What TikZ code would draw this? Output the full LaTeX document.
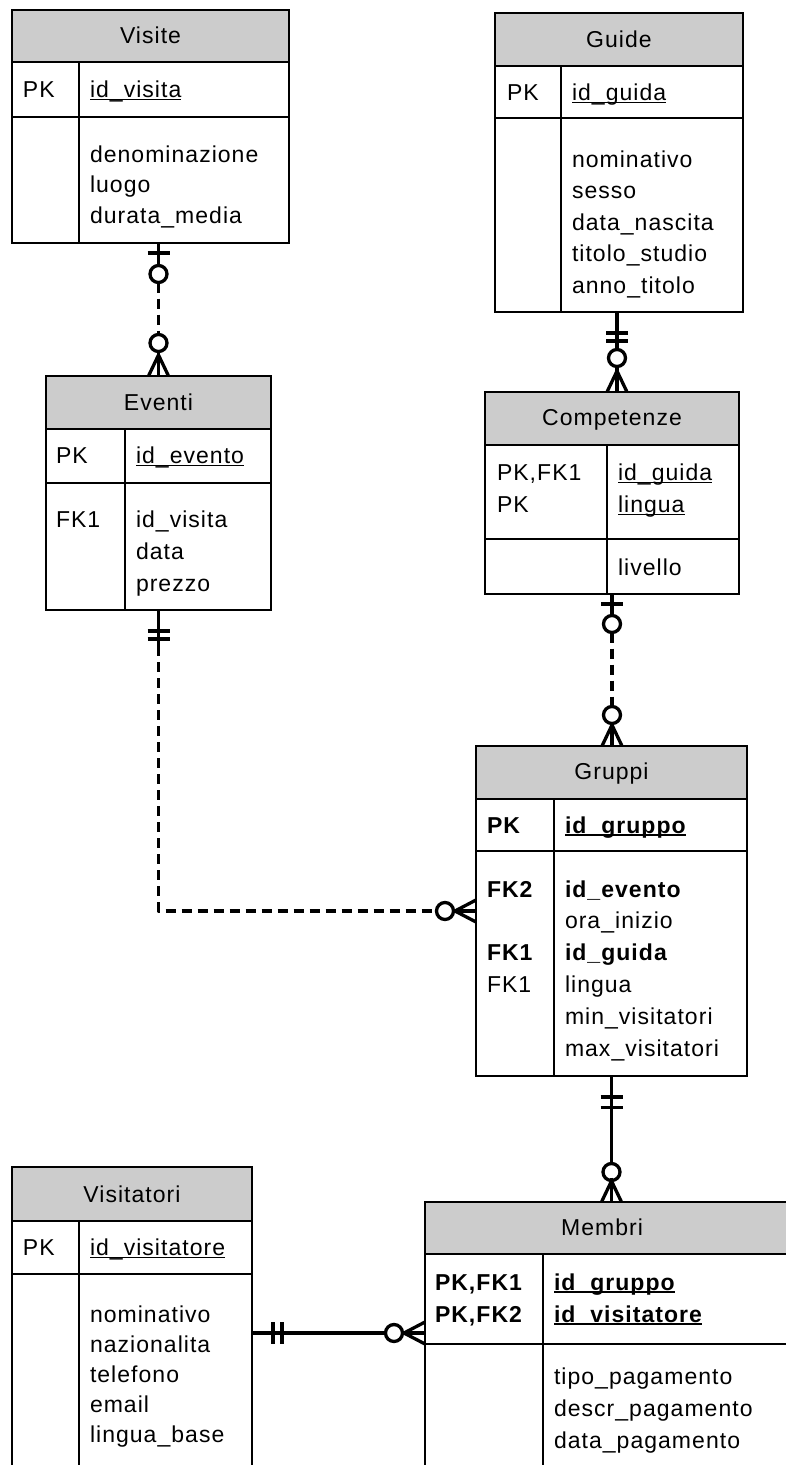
\documentclass[tikz,border=0pt]{standalone}
\usepackage{fontspec}
\setmainfont{Liberation Sans}[LetterSpace=4.5]
\usetikzlibrary{calc,backgrounds}
\definecolor{hdrgray}{HTML}{CCCCCC}
\newcommand\pkul[2][1.5pt]{\setbox0\hbox{#2}\rlap{\rule[-3.2pt]{\wd0}{#1}}\box0}
\newcommand\ertable[8]{%
  \node[tbl, minimum width=#4, minimum height=#5, anchor=north west] (#1) at (#2,#3) {};
  \begin{scope}[on background layer]
    \fill[hdrgray] (#1.north west) rectangle ([yshift=-#6]#1.north east);
  \end{scope}
  \draw[boxline] ([yshift=-#6]#1.north west) -- ([yshift=-#6]#1.north east);
  \draw[boxline] ([yshift=-#7]#1.north west) -- ([yshift=-#7]#1.north east);
  \draw[boxline] ([xshift=#8,yshift=-#6]#1.north west) -- ([xshift=#8]#1.south west);
}
\newcommand\tx[5][]{\node[txt,#1] (#2) at (#3,#4) {#5};}
\begin{document}
\begin{tikzpicture}[x=1pt,y=-1pt,
  tbl/.style={draw, line width=1.4pt, inner sep=0pt, outer sep=0pt},
  boxline/.style={line width=1.4pt},
  txt/.style={inner sep=0pt, outer sep=0pt, anchor=base west, font=\fontsize{23pt}{27pt}\selectfont},
  ttl/.style={anchor=base},
  bd/.style={font=\fontsize{23pt}{27pt}\selectfont\bfseries},
  conn/.style={line width=3.3pt},
  dconn/.style={conn, dash pattern=on 10pt off 6pt},
  pics/barH/.style={code={\draw[conn] (-11,0) -- (11,0);}},
  pics/barV/.style={code={\draw[conn] (0,-11) -- (0,11);}},
  pics/ring/.style={code={\draw[conn, fill=white] (0,0) circle[radius=8.5pt];}},
  pics/crowDown/.style={code={\draw[conn, line join=round] (-10,0) -- (0,-21) -- (10,0); \draw[conn] (0,-24.5) -- (0,0);}},
  pics/crowRight/.style={code={\draw[conn, line join=round] (0,-11) -- (-21,0) -- (0,11); \draw[conn] (-24.5,0) -- (0,0);}}
]
\useasboundingbox (0,0) rectangle (786,1465);
\begin{scope}[on background layer]
  \fill[white] (0,0) rectangle (786,1465);
\end{scope}
\clip (0,0) rectangle (786,1465);

% ---------- tables ----------
\ertable{visite}{12}{10}{277pt}{233pt}{52pt}{107pt}{67pt}
\ertable{guide}{495}{13}{248pt}{299pt}{53pt}{105pt}{66pt}
\ertable{eventi}{46}{376}{225pt}{234pt}{53pt}{107pt}{79pt}
\ertable{competenze}{485}{392}{254pt}{202pt}{53pt}{147pt}{122pt}
\ertable{gruppi}{476}{746}{271pt}{330pt}{53pt}{105pt}{78pt}
\ertable{membri}{425}{1202}{365pt}{300pt}{52pt}{142pt}{118pt}
\ertable{visitatori}{12}{1167}{240pt}{340pt}{54pt}{107pt}{67pt}

% ---------- Visite ----------
\tx[ttl]{vs-t}{150.5}{43}{Visite}
\tx{vs-k1}{23}{97}{PK}
\tx{vs-a1}{90}{97}{\pkul{id\_visita}}
\tx{vs-a2}{90}{162}{denominazione}
\tx{vs-a3}{90}{192.5}{luogo}
\tx{vs-a4}{90}{223}{durata\_media}

% ---------- Guide ----------
\tx[ttl]{gd-t}{619}{47}{Guide}
\tx{gd-k1}{507}{100}{PK}
\tx{gd-a1}{572}{100}{\pkul{id\_guida}}
\tx{gd-a2}{572}{167}{nominativo}
\tx{gd-a3}{572}{198.5}{sesso}
\tx{gd-a4}{572}{230}{data\_nascita}
\tx{gd-a5}{572}{261.5}{titolo\_studio}
\tx{gd-a6}{572}{293}{anno\_titolo}

% ---------- Eventi ----------
\tx[ttl]{ev-t}{158.5}{410}{Eventi}
\tx{ev-k1}{56}{463}{PK}
\tx{ev-a1}{136}{463}{\pkul{id\_evento}}
\tx{ev-k2}{56}{527}{FK1}
\tx{ev-a2}{136}{527}{id\_visita}
\tx{ev-a3}{136}{559}{data}
\tx{ev-a4}{136}{591}{prezzo}

% ---------- Competenze ----------
\tx[ttl]{cp-t}{612}{425}{Competenze}
\tx{cp-k1}{497}{480}{PK,FK1}
\tx{cp-a1}{618}{480}{\pkul{id\_guida}}
\tx{cp-k2}{497}{512}{PK}
\tx{cp-a2}{618}{512}{\pkul{lingua}}
\tx{cp-a3}{618}{575}{livello}

% ---------- Gruppi ----------
\tx[ttl]{gr-t}{611.5}{779}{Gruppi}
\tx[bd]{gr-k1}{487}{833}{PK}
\tx[bd]{gr-a1}{565}{833}{\pkul[2pt]{id\_gruppo}}
\tx[bd]{gr-k2}{487}{897}{FK2}
\tx[bd]{gr-a2}{565}{897}{id\_evento}
\tx{gr-a3}{565}{928}{ora\_inizio}
\tx[bd]{gr-k3}{487}{960}{FK1}
\tx[bd]{gr-a4}{565}{960}{id\_guida}
\tx{gr-k4}{487}{992}{FK1}
\tx{gr-a5}{565}{992}{lingua}
\tx{gr-a6}{565}{1024}{min\_visitatori}
\tx{gr-a7}{565}{1056}{max\_visitatori}

% ---------- Membri ----------
\tx[ttl]{mb-t}{602}{1235}{Membri}
\tx[bd]{mb-k1}{435}{1290}{PK,FK1}
\tx[bd]{mb-a1}{554}{1290}{\pkul[2pt]{id\_gruppo}}
\tx[bd]{mb-k2}{435}{1322}{PK,FK2}
\tx[bd]{mb-a2}{554}{1322}{\pkul[2pt]{id\_visitatore}}
\tx{mb-a3}{554}{1384}{tipo\_pagamento}
\tx{mb-a4}{554}{1416}{descr\_pagamento}
\tx{mb-a5}{554}{1448}{data\_pagamento}

% ---------- Visitatori ----------
\tx[ttl]{vt-t}{132}{1202}{Visitatori}
\tx{vt-k1}{23}{1255}{PK}
\tx{vt-a1}{90}{1255}{\pkul{id\_visitatore}}
\tx{vt-a2}{90}{1322}{nominativo}
\tx{vt-a3}{90}{1352}{nazionalita}
\tx{vt-a4}{90}{1382}{telefono}
\tx{vt-a5}{90}{1412}{email}
\tx{vt-a6}{90}{1442}{lingua\_base}

% ---------- connectors ----------
% Visite -- Eventi (dashed)
\coordinate (c1a) at (visite.south -| eventi.north);
\coordinate (c1b) at (eventi.north);
\draw[conn] (c1a) -- ($(c1a)+(0,22.5)$);
\draw[dconn] ($(c1a)+(0,39.5)$) -- ($(c1b)+(0,-41.5)$);
\path ($(c1a)+(0,10)$) pic {barH} ($(c1a)+(0,31)$) pic {ring}
      ($(c1b)+(0,-33)$) pic {ring} (c1b) pic {crowDown};

% Guide -- Competenze (solid)
\coordinate (c2a) at ($(guide.south west)+(122,0)$);
\coordinate (c2b) at (c2a |- competenze.north);
\draw[conn] (c2a) -- (c2b);
\path ($(c2a)+(0,21)$) pic {barH} ($(c2a)+(0,29)$) pic {barH}
      ($(c2a)+(0,46)$) pic {ring} (c2b) pic {crowDown};

% Competenze -- Gruppi (dashed)
\coordinate (c3a) at (competenze.south);
\coordinate (c3b) at (c3a |- gruppi.north);
\draw[conn] (c3a) -- ($(c3a)+(0,21.5)$);
\draw[dconn] ($(c3a)+(0,38.5)$) -- ($(c3b)+(0,-39.5)$);
\path ($(c3a)+(0,10)$) pic {barH} ($(c3a)+(0,30)$) pic {ring}
      ($(c3b)+(0,-31)$) pic {ring} (c3b) pic {crowDown};

% Eventi -- Gruppi (dashed, elbow)
\coordinate (c4a) at (eventi.south);
\coordinate (c4b) at ($(gruppi.north west)+(0,165)$);
\coordinate (c4k) at (c4a |- c4b);
\draw[conn] (c4a) -- ($(c4a)+(0,36)$);
\draw[dconn, line join=round] ($(c4a)+(0,36)$) -- (c4k) -- ($(c4b)+(-39.5,0)$);
\path ($(c4a)+(0,21)$) pic {barH} ($(c4a)+(0,29)$) pic {barH}
      ($(c4b)+(-31,0)$) pic {ring} (c4b) pic {crowRight};

% Gruppi -- Membri (solid)
\coordinate (c5a) at (gruppi.south);
\coordinate (c5b) at (c5a |- membri.north);
\draw[conn] (c5a) -- (c5b);
\path ($(c5a)+(0,21)$) pic {barH} ($(c5a)+(0,31.5)$) pic {barH}
      ($(c5b)+(0,-30)$) pic {ring} (c5b) pic {crowDown};

% Visitatori -- Membri (solid)
\coordinate (c6a) at ($(visitatori.north east)+(0,166)$);
\coordinate (c6b) at (c6a -| membri.west);
\draw[conn] (c6a) -- (c6b);
\path ($(c6a)+(21,0)$) pic {barV} ($(c6a)+(30,0)$) pic {barV}
      ($(c6b)+(-31,0)$) pic {ring} (c6b) pic {crowRight};
\end{tikzpicture}
\end{document}
